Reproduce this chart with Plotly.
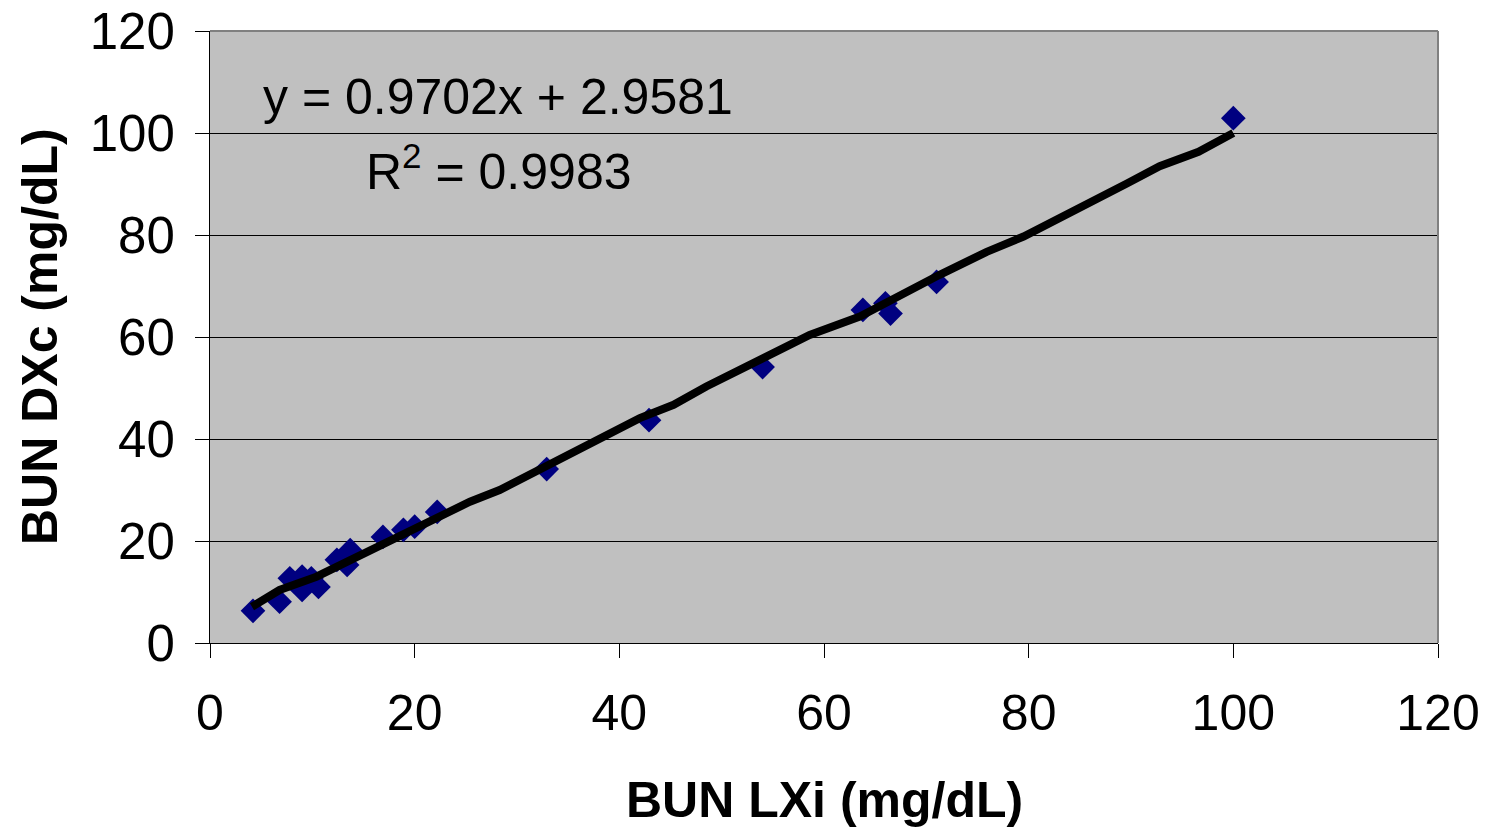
import plotly.graph_objects as go

# Scatter data: BUN LXi (x) vs BUN DXc (y)
lxi = [4.2, 6.8, 7.8, 9.0, 9.9, 9.0, 10.6, 12.4, 13.4, 13.7,
       16.9, 18.9, 20.0, 22.2, 32.9, 42.9, 54.0, 63.8, 66.0, 66.5, 71.0, 100.0]
dxc = [6.3, 8.1, 12.7, 13.0, 12.7, 10.4, 11.0, 16.3, 15.3, 18.2,
       20.8, 22.2, 22.8, 25.7, 34.1, 43.7, 54.1, 65.3, 66.6, 64.6, 70.8, 102.9]

# Black fitted line (polyline as drawn)
line_x = [4.1, 6.8, 10.4, 14.7, 18.2, 22.8, 25.4, 28.3, 42.0, 45.3, 48.5,
          58.6, 63.5, 71.3, 75.9, 79.5, 83.1, 86.3, 89.6, 92.8, 96.6, 100.0]
line_y = [7.1, 10.4, 13.0, 17.3, 20.8, 25.4, 27.7, 30.0, 44.1, 46.7, 50.3,
          60.4, 64.0, 72.2, 76.7, 79.7, 83.3, 86.5, 90.1, 93.5, 96.3, 100.0]

tick_vals = [0, 20, 40, 60, 80, 100, 120]
tick_text = ["0", "20", "40", "60", "80", "100", "120"]

FONT = "Liberation Sans, Arial, sans-serif"

fig = go.Figure()
fig.add_trace(go.Scatter(x=lxi, y=dxc, mode="markers",
                         marker=dict(symbol="diamond", size=19, color="#000080",
                                     line=dict(width=0)),
                         showlegend=False, hoverinfo="x+y"))
fig.add_trace(go.Scatter(x=line_x, y=line_y, mode="lines",
                         line=dict(color="black", width=8),
                         showlegend=False, hoverinfo="skip"))

fig.update_layout(
    width=1487, height=827,
    margin=dict(l=210, r=49, t=31, b=184),
    paper_bgcolor="white", plot_bgcolor="#C0C0C0",
    font=dict(family=FONT, color="black", size=50),
    xaxis=dict(range=[0, 120], tickvals=tick_vals, ticktext=tick_text,
               showgrid=False, zeroline=False, ticks="outside", ticklen=14,
               tickwidth=1, tickcolor="black", showline=True, linecolor="black",
               linewidth=1, tickfont=dict(size=50), ticklabelstandoff=12,
               automargin=False),
    yaxis=dict(range=[0, 120], tickvals=tick_vals, ticktext=tick_text,
               showgrid=True, gridcolor="black", gridwidth=1, zeroline=False,
               ticks="outside", ticklen=14, tickwidth=1, tickcolor="black",
               showline=True, linecolor="black", linewidth=1,
               tickfont=dict(size=51), ticklabelstandoff=10, automargin=False),
)

# gray frame on top and right
fig.add_shape(type="line", xref="paper", yref="paper", x0=0, x1=1, y0=1, y1=1,
              line=dict(color="#808080", width=2), layer="above")
fig.add_shape(type="line", xref="paper", yref="paper", x0=1, x1=1, y0=0, y1=1,
              line=dict(color="#808080", width=2), layer="above")

# axis titles
fig.add_annotation(text="<b>BUN LXi (mg/dL)</b>", xref="paper", yref="paper",
                   x=0.5, y=0, yshift=-(800 - 643), showarrow=False,
                   font=dict(size=50, family=FONT), xanchor="center", yanchor="middle")
fig.add_annotation(text="<b>BUN DXc (mg/dL)</b>", xref="paper", yref="paper",
                   x=0, xshift=-(210 - 40), y=0.5, textangle=-90, showarrow=False,
                   font=dict(size=50, family=FONT), xanchor="center", yanchor="middle")

# equation annotation
fig.add_annotation(text="y = 0.9702x + 2.9581", xref="x", yref="y",
                   x=28.15, y=107.1, showarrow=False, xanchor="center", yanchor="middle",
                   font=dict(size=50, family=FONT))
fig.add_annotation(text="R<sup>2</sup> = 0.9983", xref="x", yref="y",
                   x=28.2, y=93.1, showarrow=False, xanchor="center", yanchor="middle",
                   font=dict(size=50, family=FONT))

fig.write_html("out.html")
